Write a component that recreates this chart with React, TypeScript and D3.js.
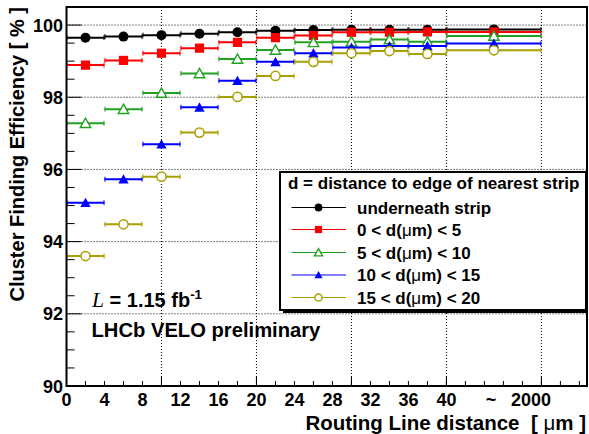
import React from "react";
import * as d3 from "d3";

// ---- data ----
const xCenters = [2, 6, 10, 14, 18, 22, 26, 30, 34, 38, 45];
const xHalfWidths = [2, 2, 2, 2, 2, 2, 2, 2, 2, 2, 5];

const underneathStrip = [99.65, 99.68, 99.72, 99.76, 99.8, 99.84, 99.86, 99.87, 99.87, 99.87, 99.88];
const d0to5 = [98.89, 99.02, 99.22, 99.36, 99.52, 99.65, 99.71, 99.8, 99.8, 99.81, 99.81];
const d5to10 = [97.28, 97.67, 98.12, 98.66, 99.06, 99.31, 99.52, 99.54, 99.6, 99.54, 99.7];
const d10to15 = [95.08, 95.73, 96.7, 97.72, 98.46, 98.98, 99.22, 99.38, 99.42, 99.42, 99.49];
const d15to20 = [93.6, 94.48, 95.8, 97.02, 98.01, 98.59, 98.98, 99.22, 99.28, 99.2, 99.3];

const seriesLabels = [
  "underneath strip",
  "0 < d(\u03bcm) < 5",
  "5 < d(\u03bcm) < 10",
  "10 < d(\u03bcm) < 15",
  "15 < d(\u03bcm) < 20",
];
const seriesValues = [underneathStrip, d0to5, d5to10, d10to15, d15to20];
const seriesColors = ["#000000", "#ff0000", "#22a022", "#0000ff", "#a8a000"];
const seriesMarkers = ["circle", "square", "openTriangle", "triangle", "openCircle"];

const yTickValues = [90, 92, 94, 96, 98, 100];
const xTickLabels = ["0", "4", "8", "12", "16", "20", "24", "28", "32", "36", "40", "~", "2000"];
const xTickLabelPos = [0, 4, 8, 12, 16, 20, 24, 28, 32, 36, 40, 44.7, 48.9];
const xGridValues = [10, 20, 30, 40, 50];
const yGridValues = [92, 94, 96, 98, 100];

const FONT = "'Liberation Sans', Arial, Helvetica, sans-serif";

function Marker({ type, x, y, color, s = 1 }: { type: string; x: number; y: number; color: string; s?: number }) {
  if (type === "circle") return <circle cx={x} cy={y} r={5 * s} fill={color} />;
  if (type === "openCircle")
    return <circle cx={x} cy={y} r={4.6 * s} fill="white" stroke={color} strokeWidth={1.5} />;
  if (type === "square") {
    const h = 4.6 * s;
    return <rect x={x - h} y={y - h} width={2 * h} height={2 * h} fill={color} />;
  }
  const w = 5.2 * s;
  const path = `M${x},${y - 5 * s}L${x + w},${y + 4.3 * s}L${x - w},${y + 4.3 * s}Z`;
  if (type === "triangle") return <path d={path} fill={color} />;
  return <path d={path} fill="white" stroke={color} strokeWidth={1.4} />;
}

export default function App() {
  const W = 589;
  const H = 434;
  const left = 66.5;
  const right = 587;
  const top = 7;
  const bottom = 386;

  const x = d3.scaleLinear().domain([0, 54.8]).range([left, right]);
  const y = d3.scaleLinear().domain([90, 100.5]).range([bottom, top]);

  const yMinor = d3.range(90, 100.51, 0.5);
  const xMinor = d3.range(0, 54.8, 2);
  const xMajor = d3.range(0, 54.8, 10);

  const legX = 280;
  const legY = 172;
  const legW = 306;
  const legH = 138;
  const legRows = [207.5, 229.5, 252.5, 275, 297.5];

  return (
    <div>
      <style>{`body{margin:0}`}</style>
      <svg width={W} height={H} style={{ display: "block", fontFamily: FONT }}>
        <rect x={0} y={0} width={W} height={H} fill="white" />

        {/* grid */}
        {yGridValues.map((v) => (
          <line key={"gy" + v} x1={left} x2={right} y1={y(v)} y2={y(v)} stroke="#000" strokeWidth={1} strokeDasharray="1 2" />
        ))}
        {xGridValues.map((v) => (
          <line key={"gx" + v} x1={x(v)} x2={x(v)} y1={top} y2={bottom} stroke="#000" strokeWidth={1} strokeDasharray="1 2" />
        ))}

        {/* y ticks */}
        {yMinor.map((v, i) => {
          const major = Math.abs(v - Math.round(v / 2) * 2) < 1e-6;
          return (
            <line key={"yt" + i} x1={left} x2={left + (major ? 15 : 8)} y1={y(v)} y2={y(v)} stroke="#000" strokeWidth={1} />
          );
        })}
        {/* x ticks */}
        {xMinor.map((v, i) => (
          <line key={"xt" + i} x1={x(v)} x2={x(v)} y1={bottom} y2={bottom - 5} stroke="#000" strokeWidth={1} />
        ))}
        {xMajor.map((v, i) => (
          <line key={"xM" + i} x1={x(v)} x2={x(v)} y1={bottom} y2={bottom - 10} stroke="#000" strokeWidth={1} />
        ))}

        {/* series */}
        {seriesValues.map((vals, si) => {
          const c = seriesColors[si];
          return (
            <g key={"s" + si}>
              {vals.map((v, i) => {
                const xa = x(xCenters[i] - xHalfWidths[i]);
                const xb = x(xCenters[i] + xHalfWidths[i]);
                const yy = y(v);
                return (
                  <g key={i}>
                    <line x1={xa} x2={xb} y1={yy} y2={yy} stroke={c} strokeWidth={2} />
                    <line x1={xa + 0.5} x2={xa + 0.5} y1={yy - 2.5} y2={yy + 2.5} stroke={c} strokeWidth={1} />
                    <line x1={xb - 0.5} x2={xb - 0.5} y1={yy - 2.5} y2={yy + 2.5} stroke={c} strokeWidth={1} />
                  </g>
                );
              })}
              {vals.map((v, i) => (
                <Marker key={"m" + i} type={seriesMarkers[si]} x={x(xCenters[i])} y={y(v)} color={c} />
              ))}
            </g>
          );
        })}

        {/* frame */}
        <rect x={left} y={top} width={right - left} height={bottom - top} fill="none" stroke="#000" strokeWidth={2} />

        {/* y tick labels */}
        {yTickValues.map((v) => (
          <text key={"yl" + v} x={63} y={y(v) + 6.5} textAnchor="end" fontSize={18} fontWeight="bold">
            {v}
          </text>
        ))}
        {/* x tick labels */}
        {xTickLabels.map((t, i) => (
          <text key={"xl" + i} x={x(xTickLabelPos[i])} y={406} textAnchor="middle" fontSize={18} fontWeight="bold">
            {t}
          </text>
        ))}

        {/* axis titles */}
        <text x={586} y={429.5} textAnchor="end" fontSize={20.5} fontWeight="bold">
          {"Routing Line distance\u00a0\u00a0[\u00a0"}
          <tspan fontWeight="normal">{"\u03bc"}</tspan>
          {"m ]"}
        </text>
        <text transform="translate(24,7) rotate(-90)" textAnchor="end" fontSize={20} fontWeight="bold">
          {"Cluster Finding Efficiency [ % ]"}
        </text>

        {/* annotations */}
        <text x={92} y={306.5} fontSize={20} fontWeight="bold">
          <tspan fontFamily="'Liberation Serif', 'Times New Roman', serif" fontStyle="italic" fontWeight="normal" fontSize={21.5}>
            L
          </tspan>
          <tspan>{" = 1.15 fb"}</tspan>
          <tspan fontSize={13.5} dy={-8}>
            -1
          </tspan>
        </text>
        <text x={91.5} y={337} fontSize={20.2} fontWeight="bold">
          LHCb VELO preliminary
        </text>

        {/* legend */}
        <rect x={legX + 3} y={legY + 3} width={legW - 3} height={legH} fill="#000" />
        <rect x={legX} y={legY} width={legW} height={legH} fill="white" stroke="#000" strokeWidth={2} />
        <text x={288} y={188.5} fontSize={17} fontWeight="bold">
          d = distance to edge of nearest strip
        </text>
        {seriesLabels.map((lab, i) => (
          <g key={"lg" + i}>
            <line x1={291.5} x2={346} y1={legRows[i]} y2={legRows[i]} stroke={seriesColors[i]} strokeWidth={1.2} />
            <Marker type={seriesMarkers[i]} x={318.5} y={legRows[i]} color={seriesColors[i]} s={0.78} />
            <text x={357} y={legRows[i] + 6} fontSize={17} fontWeight="bold">
              {lab.split("\u03bc").length > 1 ? (
                <>
                  {lab.split("\u03bc")[0]}
                  <tspan fontWeight="normal">{"\u03bc"}</tspan>
                  {lab.split("\u03bc")[1]}
                </>
              ) : (
                lab
              )}
            </text>
          </g>
        ))}
      </svg>
    </div>
  );
}
